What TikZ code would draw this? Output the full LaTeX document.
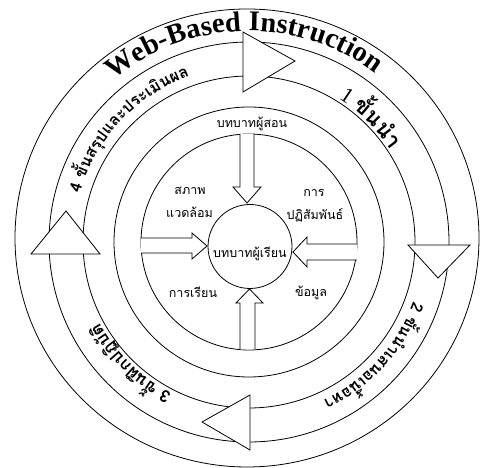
\documentclass[tikz,border=0pt]{standalone}
\usepackage{fontspec}
\setmainfont{Liberation Serif}
\newfontfamily\thaifont[Script=Thai]{Loma}
\usetikzlibrary{decorations.text}
\begin{document}
\begin{tikzpicture}[x=1pt,y=1pt,line width=0.8pt,
  ring/.style={draw=black},
  headshape/.style={draw=black,fill=white,line join=miter},
  blockarrow/.style={draw=black,fill=white,line join=miter},
  lbl/.style={font=\thaifont\fontsize{12.5}{14}\selectfont,inner sep=0pt,anchor=base}]
\useasboundingbox (0,0) rectangle (483,468);
\coordinate (C) at (249,226);
% rings
\draw[ring] (247,230) ellipse [x radius=232, y radius=229];
\draw[ring] (C) circle [radius=200];
\draw[ring] (C) circle [radius=166];
\draw[ring] (C) circle [radius=135];
\draw[ring] (C) circle [radius=108];
% heads of the curved band arrows
\filldraw[headshape] (243,436) -- (243,376) -- (295,407) -- cycle;
\filldraw[headshape] (408,223) -- (470,223) -- (438,190) -- cycle;
\filldraw[headshape] (250,73) -- (250,18) -- (202,46) -- cycle;
\filldraw[headshape] (31,214) -- (100,214) -- (66,257) -- cycle;
% centre circle
\node[circle,draw,minimum size=84pt,inner sep=0pt] (learner) at (250,221.5) {};
% inner block arrows
\filldraw[blockarrow] (240,334) -- (240,281) -- (233,281) -- (247,265) -- (261,281) -- (254,281) -- (254,334);
\filldraw[blockarrow] (240,118.5) -- (240,165) -- (236,165) -- (249.5,179) -- (263,165) -- (255,165) -- (255,118.5);
\filldraw[blockarrow] (141,230) -- (192,230) -- (192,235) -- (207,222) -- (192,209) -- (192,215) -- (141,215);
\filldraw[blockarrow] (357,224) -- (307,224) -- (307,231) -- (293,216) -- (307,201) -- (307,208) -- (357,208);
% inner labels
\node[lbl] (teacher) at (252,340.5) {บทบาทผู้สอน};
\node[lbl] (env1) at (190,273.5) {สภาพ};
\node[lbl] (env2) at (189.5,250.5) {แวดล้อม};
\node[lbl] (int1) at (314,271.5) {การ};
\node[lbl] (int2) at (315,248.5) {ปฏิสัมพันธ์};
\node[lbl] (learn) at (193,170.5) {การเรียน};
\node[lbl] (data) at (311,171.5) {ข้อมูล};
\node[lbl] (role) at (250,210.5) {บทบาทผู้เรียน};
% curved texts
\path[decorate,decoration={text along path,text align=center,
  text={|\bfseries\fontsize{28.5}{31}\selectfont|Web-Based Instruction}}]
  (C) ++(141.5:211) arc[start angle=141.5,end angle=41.5,radius=211];
\path[decorate,decoration={text along path,
  text={|\fontsize{22}{24}\selectfont|1 |\thaifont\bfseries\fontsize{22}{24}\selectfont|{ขั้}น{นำ}}}]
  (C) ++(58:169) arc[start angle=58,end angle=-10,radius=169];
\path[decorate,decoration={text along path,
  text={|\thaifont\bfseries\fontsize{16}{18}\selectfont|2 {ขั้}น{นำ}เสนอเ{นื้}อหา}}]
  (C) ++(-20:175) arc[start angle=-20,end angle=-110,radius=175];
\path[decorate,decoration={text along path,
  text={|\thaifont\bfseries\fontsize{17}{19}\selectfont|3 {ขั้}น{ฝึ}ก{ป}{ฏิ}{บั}{ติ}}}]
  (C) ++(243:170) arc[start angle=243,end angle=170,radius=170];
\path[decorate,decoration={text along path,
  text={|\thaifont\bfseries\fontsize{16}{18}\selectfont|4 {ขั้}นส{รุ}ปและประเ{มิ}นผล}}]
  (C) ++(164:176) arc[start angle=164,end angle=85,radius=176];
\end{tikzpicture}
\end{document}
